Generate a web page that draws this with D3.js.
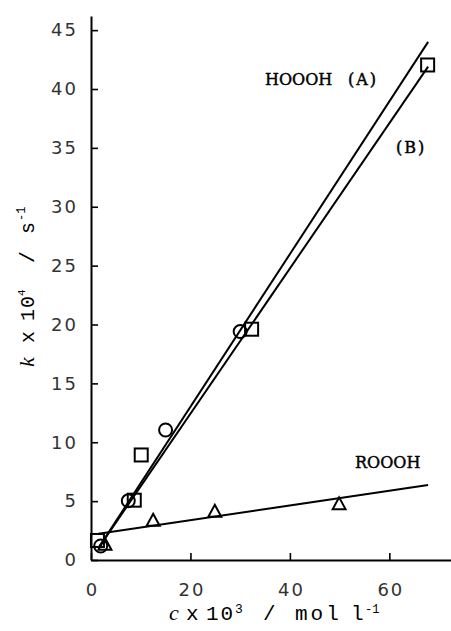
<!DOCTYPE html>
<html>
<head>
<meta charset="utf-8">
<script src="https://cdn.jsdelivr.net/npm/d3@7"></script>
<style>
  html, body { margin: 0; padding: 0; background: #fff; }
  svg { display: block; }
</style>
</head>
<body>
<script>
// Rate constant k (x 10^4 s^-1) against concentration c (x 10^3 mol l^-1)
const xTicks = [0, 20, 40, 60];
const yTicks = [0, 5, 10, 15, 20, 25, 30, 35, 40, 45];

// Series (B): squares
const squareC = [1.3, 8.7, 10.1, 32.3, 67.7];
const squareK = [1.66, 5.08, 8.92, 19.6, 42.04];
// Series (A): circles
const circleC = [1.95, 7.5, 15.0, 30.0];
const circleK = [1.19, 5.03, 11.04, 19.4];
// ROOOH: triangles
const triC = [2.8, 12.5, 24.9, 49.9];
const triK = [1.38, 3.42, 4.18, 4.81];

// Fitted straight lines, end points [c, k]
const fitA = [[1.45, 0.99], [67.8, 44.0]];
const fitB = [[1.45, 0.99], [67.8, 41.9]];
const fitR = [[1.5, 2.22], [67.8, 6.37]];

const W = 451, H = 631;
const svg = d3.select("body").append("svg").attr("width", W).attr("height", H);

const x = d3.scaleLinear().domain([0, 72.4]).range([91, 451]);
const y = d3.scaleLinear().domain([0, 46.2]).range([560, 16]);

const line = d3.line().x(d => x(d[0])).y(d => y(d[1]));

const ink = "#000";

// fit lines
[fitA, fitB, fitR].forEach(seg => {
  svg.append("path").attr("d", line(seg))
    .attr("fill", "none").attr("stroke", ink).attr("stroke-width", 2);
});

// markers
const sq = 13;
svg.append("g").selectAll("rect").data(d3.range(squareC.length)).join("rect")
  .attr("x", i => x(squareC[i]) - sq / 2)
  .attr("y", i => y(squareK[i]) - sq / 2)
  .attr("width", sq).attr("height", sq)
  .attr("fill", "none").attr("stroke", ink).attr("stroke-width", 2);

svg.append("g").selectAll("circle").data(d3.range(circleC.length)).join("circle")
  .attr("cx", i => x(circleC[i])).attr("cy", i => y(circleK[i])).attr("r", 6.5)
  .attr("fill", "none").attr("stroke", ink).attr("stroke-width", 2);

const tw = 13, th = 12;
svg.append("g").selectAll("path").data(d3.range(triC.length)).join("path")
  .attr("d", i => {
    const cx = x(triC[i]), cy = y(triK[i]);
    return `M${cx},${cy - th / 2}L${cx + tw / 2},${cy + th / 2}L${cx - tw / 2},${cy + th / 2}Z`;
  })
  .attr("fill", "none").attr("stroke", ink).attr("stroke-width", 2).attr("stroke-linejoin", "miter");

// axes
const tickFont = "'DejaVu Sans', sans-serif";
const yAxis = d3.axisLeft(y).tickValues(yTicks).tickSizeInner(-7).tickSizeOuter(0).tickPadding(15)
  .tickFormat(d3.format("d"));
const gy = svg.append("g").attr("transform", `translate(${x(0)},0)`).call(yAxis);

const xAxis = d3.axisBottom(x).tickValues(xTicks).tickSizeInner(-7).tickSizeOuter(0).tickPadding(23)
  .tickFormat(d3.format("d"));
const gx = svg.append("g").attr("transform", `translate(0,${y(0)})`).call(xAxis);

[gx, gy].forEach(g => {
  g.select(".domain").attr("stroke", ink).attr("stroke-width", 2);
  g.selectAll(".tick line").attr("stroke", ink).attr("stroke-width", 1.6);
  g.selectAll(".tick text").attr("fill", "#333")
    .style("font-family", tickFont).style("font-size", "18px").style("letter-spacing", "2px");
});
gy.selectAll(".tick text").attr("dx", 2);
gx.selectAll(".tick text").attr("dx", 1);

// series labels
const labFont = "'DejaVu Serif', serif";
function label(t, px, py, ls) {
  svg.append("text").attr("x", px).attr("y", py).text(t)
    .attr("fill", ink).attr("stroke", ink).attr("stroke-width", 0.45)
    .style("font-family", labFont).style("font-size", "16px").style("letter-spacing", ls + "px");
}
label("HOOOH", 265, 85, 0);
label("(A)", 348, 85, 2);
label("(B)", 396, 153, 2);
label("ROOOH", 355, 468, 0);

// x axis title
const titleFont = "'Liberation Mono', monospace";
const xt = svg.append("text").attr("y", 620).attr("fill", ink)
  .style("font-family", titleFont).style("font-size", "21px");
xt.append("tspan").attr("x", 169).text("c")
  .style("font-family", "'Liberation Serif', serif").style("font-style", "italic").style("font-size", "22px");
xt.append("tspan").attr("x", 186).text("x");
xt.append("tspan").attr("x", 206).text("10").style("letter-spacing", "2px");
xt.append("tspan").attr("x", 235).attr("dy", -7).text("3").style("font-size", "13px");
xt.append("tspan").attr("x", 263).attr("dy", 7).text("/");
xt.append("tspan").attr("x", 295).text("mol").style("letter-spacing", "3px");
xt.append("tspan").attr("x", 351).text("l");
xt.append("tspan").attr("x", 365).attr("dy", -7).text("-1").style("font-size", "12px");

// y axis title, rotated
const yt = svg.append("text").attr("transform", "translate(34,0) rotate(-90)").attr("fill", ink)
  .style("font-family", titleFont).style("font-size", "20px");
yt.append("tspan").attr("x", -367).text("k")
  .style("font-family", "'Liberation Serif', serif").style("font-style", "italic").style("font-size", "22px");
yt.append("tspan").attr("x", -343).text("x");
yt.append("tspan").attr("x", -321).text("10").style("letter-spacing", "1px");
yt.append("tspan").attr("x", -296).attr("dy", -9).text("4").style("font-size", "11px");
yt.append("tspan").attr("x", -263).attr("dy", 9).text("/");
yt.append("tspan").attr("x", -234).text("s");
yt.append("tspan").attr("x", -221).attr("dy", -9).text("-1").style("font-size", "12px");
</script>
</body>
</html>
